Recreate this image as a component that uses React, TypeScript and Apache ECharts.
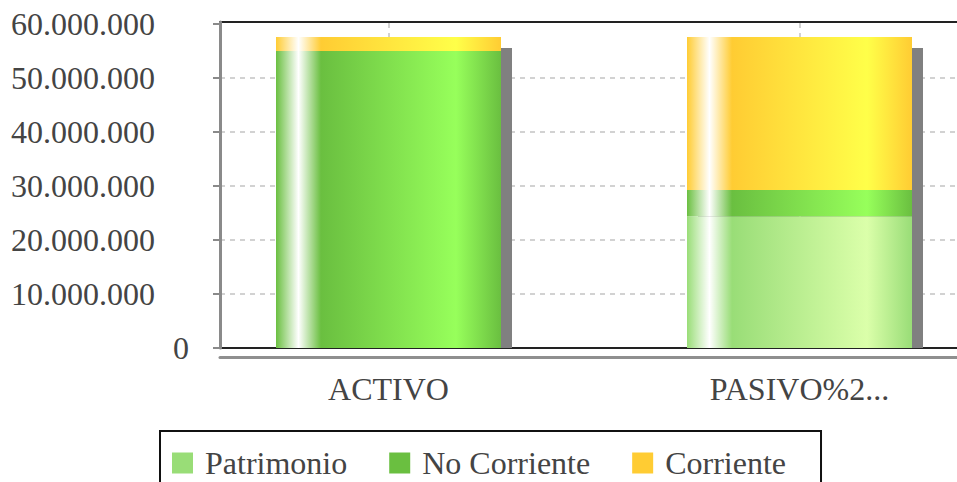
import React, { useEffect, useRef } from "react";
import * as echarts from "echarts";

const categories = ["ACTIVO", "PASIVO%2..."];
const seriesNames = ["Patrimonio", "No Corriente", "Corriente"];
const patrimonio = [0, 24400000];
const noCorriente = [55000000, 4850000];
const corriente = [2600000, 28350000];
const yTicks = [0, 10000000, 20000000, 30000000, 40000000, 50000000, 60000000];

const baseColors = ["#99dd77", "#6abf40", "#ffcc33"];
const brightColors = ["#dbffaa", "#97ff5b", "#ffff49"];

const FONT = "Liberation Serif";
const FS = 32;
const TEXT = "#444444";
const BAR_W = 225;
const SHADOW = 11;
const Y_MAX = 60370000;

function fmt(v: number): string {
  return String(Math.round(v)).replace(/\B(?=(\d{3})+(?!\d))/g, ".");
}

function grad(i: number) {
  return new echarts.graphic.LinearGradient(0, 0, 1, 0, [
    { offset: 0, color: baseColors[i] },
    { offset: 0.1, color: "#ffffff" },
    { offset: 0.2, color: baseColors[i] },
    { offset: 0.8, color: brightColors[i] },
    { offset: 1, color: baseColors[i] },
  ]);
}

export default function App() {
  const ref = useRef<HTMLDivElement>(null);
  useEffect(() => {
    if (!ref.current) return;
    const chart = echarts.init(ref.current, undefined, { renderer: "svg" });
    const values = [patrimonio, noCorriente, corriente];
    const totals = categories.map((_, i) => values.reduce((s, arr) => s + arr[i], 0));

    const barSeries = values.map((arr, si) => ({
      type: "bar",
      name: seriesNames[si],
      stack: "total",
      barWidth: BAR_W,
      xAxisIndex: 0,
      yAxisIndex: 0,
      z: 5,
      data: arr,
      itemStyle: { color: grad(si) },
      emphasis: { disabled: true },
    }));

    chart.setOption({
      animation: false,
      color: baseColors,
      grid: [
        {
          left: 183,
          top: 22,
          width: 822,
          height: 326,
          show: false,
          outerBoundsMode: "none",
          containLabel: false,
        },
        {
          left: 220,
          top: 22,
          width: 785,
          height: 326,
          show: true,
          borderColor: "#222222",
          borderWidth: 2,
          backgroundColor: "transparent",
          outerBoundsMode: "none",
          containLabel: false,
        },
      ],
      xAxis: [
        {
          type: "category",
          gridIndex: 0,
          data: categories,
          boundaryGap: true,
          axisLine: { show: false },
          axisTick: { show: false },
          splitLine: { show: false },
          axisLabel: {
            fontFamily: FONT,
            fontSize: FS,
            color: TEXT,
            margin: 25,
            interval: 0,
          },
        },
        {
          type: "value",
          gridIndex: 1,
          min: 0,
          max: 1,
          offset: 9,
          axisLine: { show: true, onZero: false, lineStyle: { color: "#8f8f8f", width: 3 } },
          axisTick: { show: false },
          splitLine: { show: false },
          axisLabel: { show: false },
        },
      ],
      yAxis: [
        {
          type: "value",
          gridIndex: 0,
          min: 0,
          max: Y_MAX,
          show: false,
          splitLine: { show: false },
        },
        {
          type: "value",
          gridIndex: 1,
          min: 0,
          max: Y_MAX,
          interval: 10000000,
          offset: 10,
          axisLine: { show: true, lineStyle: { color: "#8a8a8a", width: 3 } },
          axisTick: {
            show: true,
            length: 7,
            customValues: yTicks,
            lineStyle: { color: "#8a8a8a", width: 2 },
          },
          splitLine: {
            show: true,
            showMinLine: false,
            showMaxLine: false,
            lineStyle: { color: "#c4c4c4", width: 1.5, type: [5, 5] },
          },
          axisLabel: {
            customValues: yTicks,
            margin: 21,
            formatter: (v: number) =>
              v % 10000000 !== 0 ? "" : v === 0 ? "{z|0}" : "{n|" + fmt(v) + "}",
            rich: {
              z: { fontFamily: FONT, fontSize: FS, color: TEXT },
              n: { fontFamily: FONT, fontSize: FS, color: TEXT, padding: [0, 34, 0, 0] },
            },
          },
        },
      ],
      legend: {
        data: seriesNames.map((n, i) => ({ name: n, itemStyle: { color: baseColors[i] } })),
        left: 160,
        top: 431,
        orient: "horizontal",
        icon: "rect",
        itemWidth: 21,
        itemHeight: 21,
        itemGap: 42,
        padding: [16, 35, 20, 12],
        borderColor: "#111111",
        borderWidth: 2,
        selectedMode: false,
        textStyle: { fontFamily: FONT, fontSize: FS, color: TEXT, padding: [0, 0, 0, 7] },
      },
      series: [
        {
          type: "custom",
          name: "shadow",
          xAxisIndex: 0,
          yAxisIndex: 0,
          z: 3,
          silent: true,
          data: totals.map((t, ci) => [ci, t]),
          renderItem: (params: any, api: any) => {
            const top = api.coord([api.value(0), api.value(1)]);
            const base = api.coord([api.value(0), 0]);
            return {
              type: "rect",
              shape: {
                x: top[0] - BAR_W / 2 + SHADOW,
                y: top[1] + SHADOW,
                width: BAR_W,
                height: base[1] - top[1] - SHADOW,
              },
              style: { fill: "#808080" },
            };
          },
          markLine: {
            silent: true,
            symbol: "none",
            label: { show: false },
            lineStyle: { color: "#c4c4c4", width: 1.5, type: [5, 5] },
            data: categories.map((c) => ({ xAxis: c })),
          },
        },
        ...barSeries,
      ],
    });
    return () => chart.dispose();
  }, []);
  return <div ref={ref} style={{ width: 957, height: 482, position: "absolute", left: 0, top: 0 }} />;
}
